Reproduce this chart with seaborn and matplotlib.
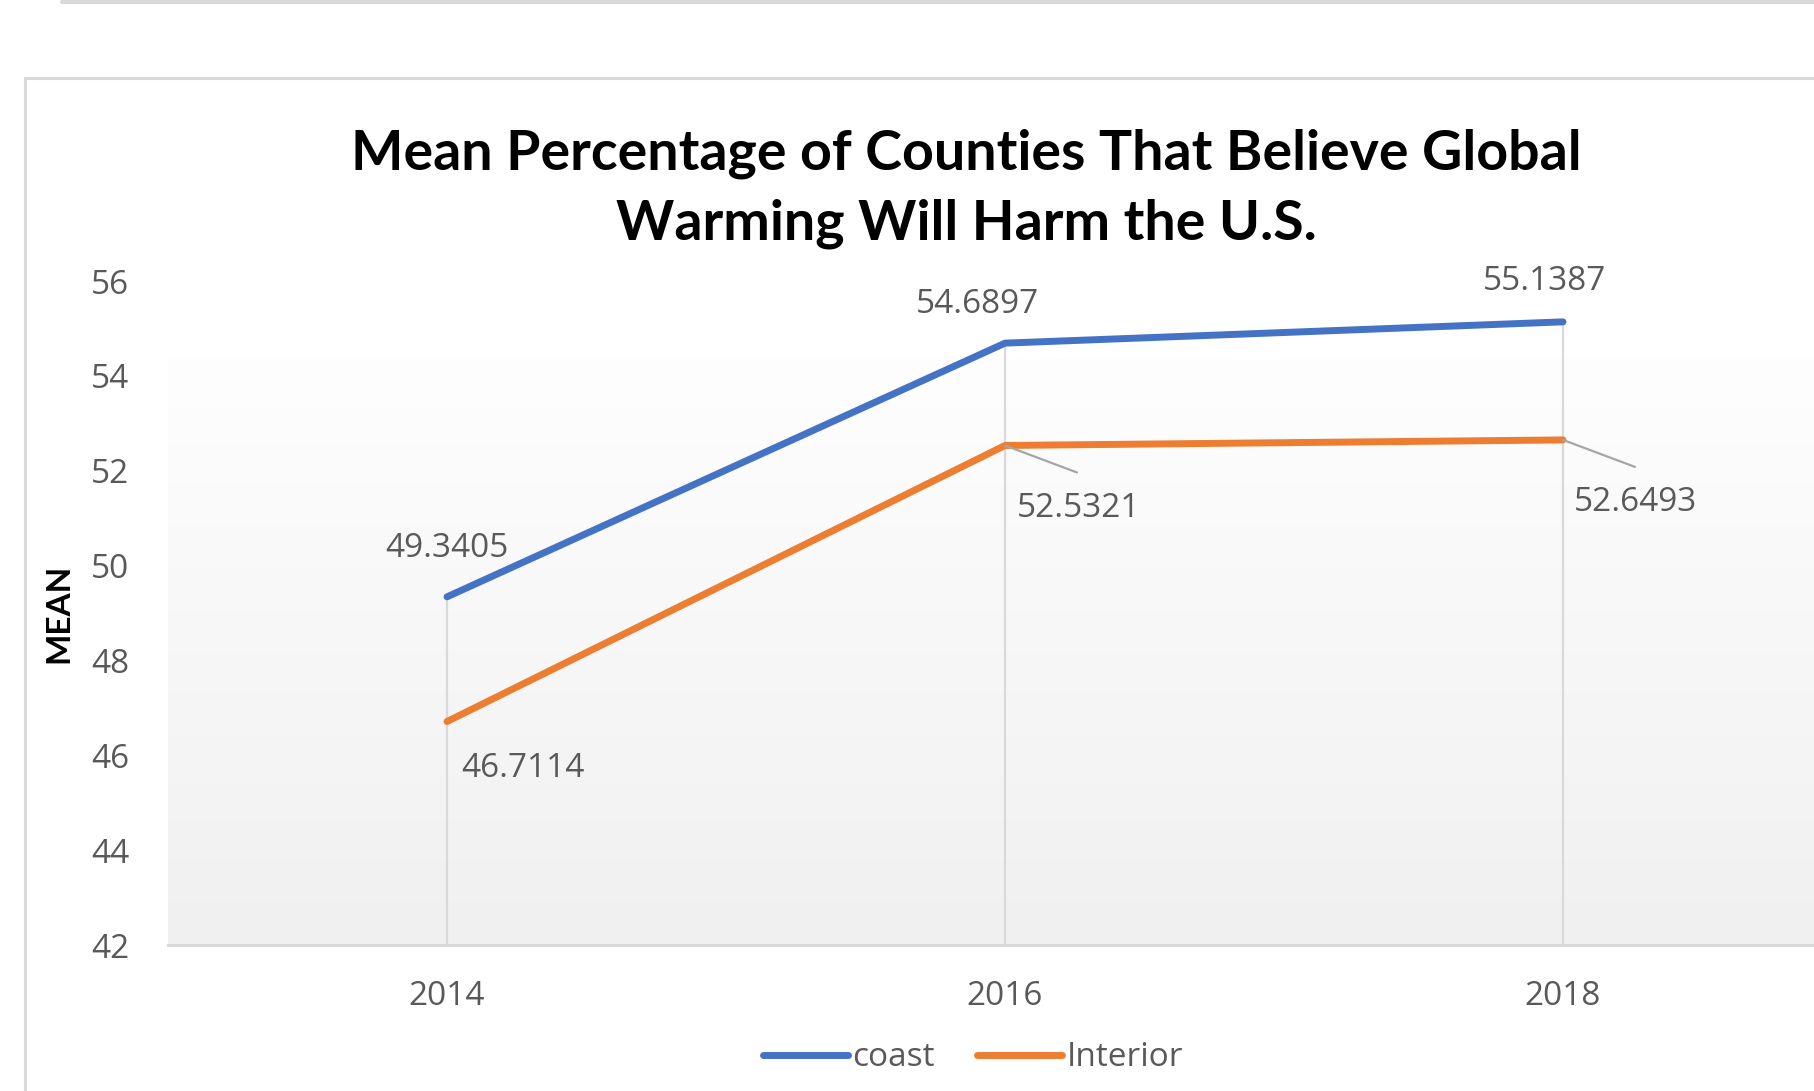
import numpy as np
import pandas as pd
import matplotlib
matplotlib.use("Agg")
import matplotlib.pyplot as plt
from matplotlib.patches import Rectangle
from matplotlib.lines import Line2D
import seaborn as sns

# Chart data
years = ["2014", "2016", "2018"]
coast = [49.3405, 54.6897, 55.1387]
interior = [46.7114, 52.5321, 52.6493]
series_names = ["coast", "Interior"]
title = "Mean Percentage of Counties That Believe Global\nWarming Will Harm the U.S."
y_label = "MEAN"
y_ticks = [42, 44, 46, 48, 50, 52, 54, 56]

sns.set_theme(style="white")
plt.rcParams["font.family"] = ["Open Sans", "DejaVu Sans"]

W, H, DPI = 1815, 1091, 100
fig = plt.figure(figsize=(W / DPI, H / DPI), dpi=DPI)
fig.patch.set_facecolor("white")

# plot area (extends a little past the right edge of the canvas)
left_px, right_px, top_px, bottom_px = 168, 1842, 281, 945
ax = fig.add_axes([left_px / W, 1 - bottom_px / H,
                   (right_px - left_px) / W, (bottom_px - top_px) / H])
ax.set_facecolor("none")

df = pd.DataFrame({
    "year": list(range(len(years))) * 2,
    "value": coast + interior,
    "series": [series_names[0]] * len(years) + [series_names[1]] * len(years),
})
palette = {"coast": "#4472C4", "Interior": "#ED7D31"}

ax.set_xlim(-0.5, len(years) - 0.5)
ax.set_ylim(42, 56)

# soft vertical gradient fill of the plot area
grad = np.linspace(0, 1, 256).reshape(-1, 1)
cmap = matplotlib.colors.LinearSegmentedColormap.from_list("bg", ["#fefefe", "#f0f0f0"])
ax.imshow(grad, extent=[-0.5, len(years) - 0.5, 42, 54.36], aspect="auto",
          cmap=cmap, zorder=0, interpolation="bicubic")

# drop lines from the axis to the highest point of each category
tops = np.maximum(coast, interior)
ax.vlines(range(len(years)), 42, tops, color="#d9d9d9", lw=1.6, zorder=1)

sns.lineplot(data=df, x="year", y="value", hue="series", palette=palette,
             linewidth=5.0, ax=ax, legend=False, zorder=3,
             solid_capstyle="round", solid_joinstyle="round")

ax.set_xticks(range(len(years)))
ax.set_xticklabels(years)
ax.set_yticks(y_ticks)
ax.tick_params(axis="both", length=0, labelsize=24, labelcolor="#595959")
ax.tick_params(axis="x", pad=25)
ax.tick_params(axis="y", pad=41.5)
for lab in ax.get_yticklabels():
    lab.set_horizontalalignment("center")
for s in ["top", "right", "left"]:
    ax.spines[s].set_visible(False)
ax.spines["bottom"].set_color("#d9d9d9")
ax.spines["bottom"].set_linewidth(2.2)
ax.spines["bottom"].set_zorder(2)
ax.set_xlabel("")
ax.set_ylabel(y_label, fontsize=24, fontweight="bold", color="black",
              family=["Lato", "DejaVu Sans"])
ax.yaxis.set_label_coords((73 - left_px) / (right_px - left_px), 0.5)
ax.grid(False)

# data labels
label_kw = dict(textcoords="offset pixels", fontsize=24, color="#595959",
                ha="center", va="center", zorder=4)
coast_offsets = [(0, 48), (-28, 39), (-18, 40)]
for i, (v, off) in enumerate(zip(coast, coast_offsets)):
    ax.annotate(f"{v:.4f}", (i, v), xytext=off, **label_kw)
interior_offsets = [(76, -47), (74, -63), (73, -63)]
for i, (v, off) in enumerate(zip(interior, interior_offsets)):
    ax.annotate(f"{v:.4f}", (i, v), xytext=off, **label_kw)
# leader lines for the shifted labels
for i in [1, 2]:
    ax.annotate("", (i, interior[i]), xytext=(72, -27), textcoords="offset pixels",
                arrowprops=dict(arrowstyle="-", color="#a6a6a6", lw=1.6,
                                shrinkA=0, shrinkB=0), zorder=4)

# title
fig.text(966 / W, 1 - 189 / H, title, ha="center", va="center", fontsize=40,
         fontweight="bold", color="black", linespacing=1.48,
         family=["Lato", "DejaVu Sans"])

# legend
handles = [Line2D([0], [0], color=palette[n], lw=5.0, solid_capstyle="round") for n in series_names]
fig.legend(handles, series_names, loc="center", bbox_to_anchor=(973 / W, 1 - 1058 / H),
           ncol=2, frameon=False, fontsize=24, labelcolor="#595959",
           handlelength=2.55, handletextpad=0.12, columnspacing=1.28)

# chart frame and the separator line above it
fig.add_artist(Rectangle((25 / W, -0.1), 1.2, 1 - 78 / H + 0.1, transform=fig.transFigure,
                         fill=False, edgecolor="#d9d9d9", lw=2.2, zorder=0))
fig.add_artist(Line2D([62 / W, 1.0], [1 - 2 / H, 1 - 2 / H], transform=fig.transFigure,
                      color="#d9d9d9", lw=3))

fig.savefig("out.png", dpi=DPI)
